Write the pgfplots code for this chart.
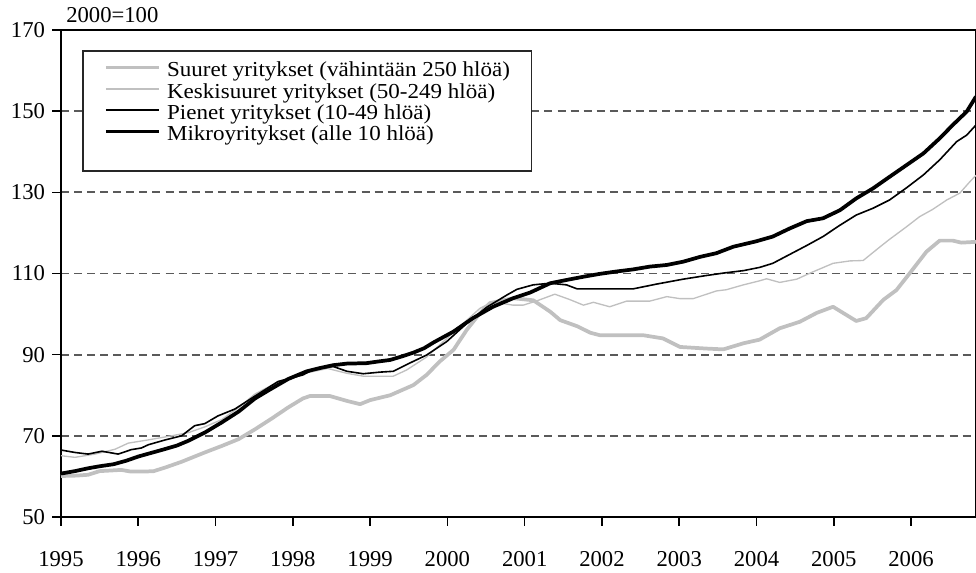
\documentclass[border=0pt]{standalone}
\usepackage{fontspec}
\setmainfont{Liberation Serif}
\newfontfamily\legfont[FakeStretch=1.08]{Liberation Serif}
\usepackage{pgfplots}
\pgfplotsset{compat=1.18}
\definecolor{lgray}{HTML}{C0C0C0}
\definecolor{ggray}{HTML}{5A5A5A}
\begin{document}
\begin{tikzpicture}
\begin{axis}[name=ax,
  scale only axis, width=686.25pt, height=365.25pt,
  xmin=1995, xmax=2006.84, ymin=50, ymax=170,
  xtick={1995,1996,...,2006}, ytick={50,70,...,170},
  xticklabel style={/pgf/number format/1000 sep={}, yshift=-16pt},
  yticklabel style={xshift=-2pt},
  /pgf/number format/assume math mode=true,
  tick label style={font=\fontsize{17}{20}\selectfont},
  tick align=outside, major tick length=6.5pt,
  xtick pos=bottom, ytick pos=left,
  axis line style={line width=1.5pt},
  major tick style={line width=1.2pt, black},
  ymajorgrids,
  major grid style={ggray, line width=1.3pt, dash pattern=on 6pt off 3.8pt},
  legend cell align=left,
  legend style={at={(rel axis cs:0.047,0.9337)}, anchor=north west, draw=none, fill=none,
    inner sep=0pt, outer sep=0pt, row sep=0pt, column sep=4.5pt,
    font=\legfont\fontsize{16}{16}\selectfont,
    cells={anchor=base west},
    nodes={inner sep=0pt, outer sep=0pt, text height=11pt, text depth=5pt}},
  legend image code/.code={\draw[#1] (0pt,7pt) -- (40pt,7pt);},
]
\draw[line width=1pt, black!85, fill=white] (rel axis cs:0.024,0.957) rectangle (rel axis cs:0.514,0.7105);

\addplot[lgray, line width=2.8pt, line join=round] coordinates {
(1995.00,60.1) (1995.2,60.2) (1995.35,60.4) (1995.5,61.3) (1995.78,61.6) (1995.9,61.2)
(1996.09,61.2) (1996.2,61.3) (1996.35,62.2) (1996.56,63.6) (1996.86,65.9) (1997.08,67.5)
(1997.30,69.2) (1997.51,71.6) (1997.73,74.3) (1997.94,77.0) (1998.13,79.2) (1998.22,79.8)
(1998.48,79.8) (1998.7,78.6) (1998.87,77.8) (1999.00,78.8) (1999.26,80.0) (1999.56,82.5)
(1999.73,85.0) (1999.90,88.3) (2000.08,91.2) (2000.25,96.1) (2000.42,100.2) (2000.55,102.7)
(2000.85,103.9) (2001.11,103.4) (2001.33,100.6) (2001.46,98.5) (2001.68,97.0) (2001.85,95.4)
(2001.97,94.8) (2002.53,94.8) (2002.79,94.0) (2003.01,91.9) (2003.35,91.5) (2003.57,91.3)
(2003.83,92.8) (2004.04,93.7) (2004.30,96.5) (2004.56,98.1) (2004.78,100.3) (2004.99,101.8)
(2005.29,98.3) (2005.42,99.0) (2005.64,103.5) (2005.81,105.9) (2005.98,110.0) (2006.20,115.4)
(2006.37,118.1) (2006.54,118.1) (2006.65,117.6) (2006.84,117.8)
};
\addlegendentry{Suuret yritykset (vähintään 250 hlöä)}

\addplot[lgray, line width=1pt, line join=round] coordinates {
(1995.00,65.1) (1995.18,64.7) (1995.44,65.5) (1995.70,66.7) (1995.87,68.2) (1996.13,69.0)
(1996.43,70.0) (1996.65,70.8) (1996.86,72.2) (1997.08,74.0) (1997.3,77.0) (1997.51,80.3)
(1997.73,82.5) (1997.94,84.0) (1998.2,85.6) (1998.45,86.6) (1998.7,85.4) (1998.91,84.7)
(1999.30,84.7) (1999.47,86.2) (1999.73,89.4) (1999.90,92.4) (2000.16,96.9) (2000.42,101.4)
(2000.59,103.0) (2000.85,102.2) (2000.98,102.2) (2001.15,103.2) (2001.39,104.9) (2001.58,103.6)
(2001.76,102.2) (2001.89,102.9) (2002.10,101.8) (2002.32,103.2) (2002.62,103.2) (2002.84,104.3)
(2003.01,103.8) (2003.18,103.8) (2003.48,105.7) (2003.61,106.0) (2003.83,107.2) (2004.04,108.2)
(2004.13,108.7) (2004.30,107.8) (2004.52,108.6) (2004.73,110.4) (2004.99,112.5) (2005.21,113.1)
(2005.38,113.2) (2005.60,116.6) (2005.72,118.4) (2005.94,121.5) (2006.11,124.0) (2006.28,125.8)
(2006.46,128.1) (2006.63,129.8) (2006.76,132.6) (2006.84,134.2)
};
\addlegendentry{Keskisuuret yritykset (50-249 hlöä)}

\addplot[black, line width=1.2pt, line join=round] coordinates {
(1995.00,66.5) (1995.18,65.9) (1995.35,65.5) (1995.53,66.2) (1995.74,65.5) (1995.91,66.6)
(1996.04,67.0) (1996.13,67.8) (1996.35,69.0) (1996.56,70.0) (1996.73,72.5) (1996.86,73.0)
(1997.03,74.9) (1997.25,76.6) (1997.51,79.8) (1997.81,83.4) (1998.13,85.0) (1998.26,86.3)
(1998.52,87.1) (1998.70,85.9) (1998.91,85.3) (1999.13,85.7) (1999.30,85.9) (1999.51,87.9)
(1999.73,89.9) (1999.99,93.2) (2000.25,97.7) (2000.51,101.7) (2000.77,104.7) (2000.90,106.1)
(2001.11,107.2) (2001.33,107.6) (2001.54,107.2) (2001.68,106.2) (2002.40,106.2) (2002.71,107.4)
(2003.05,108.6) (2003.35,109.5) (2003.61,110.2) (2003.83,110.7) (2004.04,111.5) (2004.21,112.5)
(2004.43,114.7) (2004.65,116.9) (2004.86,119.1) (2005.08,121.9) (2005.29,124.4) (2005.51,126.1)
(2005.72,128.1) (2005.94,131.1) (2006.16,134.3) (2006.37,138.0) (2006.59,142.5) (2006.72,144.1)
(2006.84,146.6)
};
\addlegendentry{Pienet yritykset (10-49 hlöä)}

\addplot[black, line width=2.8pt, line join=round] coordinates {
(1995.00,60.7) (1995.18,61.3) (1995.35,62.0) (1995.5,62.5) (1995.68,63.0) (1995.85,63.9)
(1996.00,64.9) (1996.15,65.7) (1996.32,66.6) (1996.5,67.6) (1996.65,68.8) (1996.86,70.8)
(1997.08,73.3) (1997.30,76.0) (1997.51,79.2) (1997.73,81.7) (1997.94,84.0) (1998.18,85.9)
(1998.35,86.7) (1998.52,87.4) (1998.7,87.8) (1998.95,87.9) (1999.1,88.3) (1999.26,88.7)
(1999.4,89.5) (1999.56,90.5) (1999.7,91.6) (1999.82,93.0) (2000.08,95.7) (2000.33,99.0)
(2000.59,101.8) (2000.85,103.9) (2001.07,105.3) (2001.33,107.6) (2001.54,108.4) (2001.76,109.2)
(2001.97,109.9) (2002.19,110.5) (2002.40,111.0) (2002.62,111.7) (2002.84,112.1) (2003.05,112.9)
(2003.27,114.1) (2003.48,115.0) (2003.70,116.6) (2003.99,117.9) (2004.21,119.1) (2004.43,121.1)
(2004.65,122.9) (2004.86,123.6) (2005.08,125.6) (2005.29,128.5) (2005.51,131.0) (2005.72,133.8)
(2005.94,136.7) (2006.16,139.6) (2006.37,143.3) (2006.54,146.6) (2006.72,149.9) (2006.84,153.6)
};
\addlegendentry{Mikroyritykset (alle 10 hlöä)}
\end{axis}
\node[anchor=base west, font=\fontsize{17}{20}\selectfont, inner sep=0pt] at ([xshift=3.75pt, yshift=5.25pt]ax.north west) {2000=100};
\pgfresetboundingbox
\path[use as bounding box] ([xshift=-45.75pt,yshift=-42pt]ax.south west) rectangle ([yshift=22.5pt]ax.north east);
\end{tikzpicture}
\end{document}
